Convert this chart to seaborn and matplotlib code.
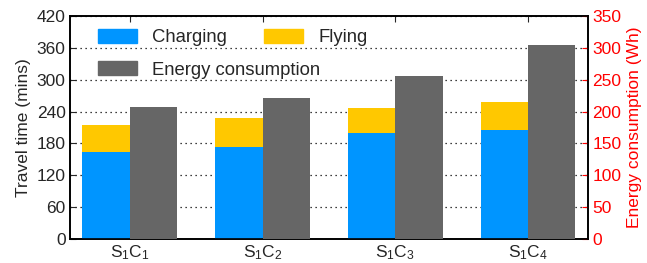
import numpy as np
import pandas as pd
import matplotlib
matplotlib.use("Agg")
import matplotlib.pyplot as plt
from matplotlib.patches import Patch
import seaborn as sns

# Data
scenarios = ["S$_1$C$_1$", "S$_1$C$_2$", "S$_1$C$_3$", "S$_1$C$_4$"]
charging = [164, 173, 200, 205]     # mins
flying = [51, 55, 47, 53]           # mins (stacked on charging)
energy = [207, 221, 256, 305]       # Wh (right axis)

sns.set_style("white")
plt.rcParams["font.family"] = ["Liberation Sans", "DejaVu Sans"]
plt.rcParams["mathtext.default"] = "regular"
plt.rcParams["font.size"] = 12.5

blue, yellow, grey, red = "#0095ff", "#ffc800", "#666666", "#ff0000"
w = 0.355
pos = np.arange(len(scenarios))

df = pd.DataFrame({"pos": pos, "charging": charging, "flying": flying, "energy": energy})
df["travel"] = df["charging"] + df["flying"]

fig = plt.figure(figsize=(6.47, 2.63), dpi=100)
ax = fig.add_axes([0.108, 0.091, 0.801, 0.848])
ax2 = ax.twinx()

bar_kw = dict(native_scale=True, width=w, saturation=1, linewidth=0, zorder=3)
sns.barplot(x=df["pos"] - w / 2, y=df["travel"], color=yellow, ax=ax, **bar_kw)
sns.barplot(x=df["pos"] - w / 2, y=df["charging"], color=blue, ax=ax, **bar_kw)
sns.barplot(x=df["pos"] + w / 2, y=df["energy"], color=grey, ax=ax2, **bar_kw)

ax.set_ylim(0, 420)
ax.set_yticks(range(0, 421, 60))
ax2.set_ylim(0, 350)
ax2.set_yticks(range(0, 351, 50))
ax.set_xlim(-0.45, 3.45)
ax.set_xticks(pos)
ax.set_xticklabels(scenarios)
ax.set_xlabel("")
ax2.set_xlabel("")
ax.set_ylabel("Travel time (mins)")
ax2.set_ylabel("Energy consumption (Wh)", color=red)

ax.yaxis.grid(True, linestyle=(0, (1, 3)), color="black", linewidth=0.9)
ax.set_axisbelow(True)
ax2.grid(False)

ax.tick_params(axis="both", direction="in", length=4, top=True, pad=3)
ax2.tick_params(axis="y", direction="in", length=4, colors=red, pad=3)
for a in (ax, ax2):
    for s in a.spines.values():
        s.set_linewidth(1.2)
        s.set_color("black")

leg_kw = dict(frameon=False, loc="upper left", handlelength=2.1, handleheight=0.8,
              handletextpad=0.85, borderaxespad=0, fontsize=13.3)
leg1 = ax2.legend(handles=[Patch(color=blue, label="Charging"),
                           Patch(color=yellow, label="Flying")],
                  ncol=2, columnspacing=2.0, bbox_to_anchor=(0.04, 0.975), **leg_kw)
ax2.add_artist(leg1)
ax2.legend(handles=[Patch(color=grey, label="Energy consumption")],
           bbox_to_anchor=(0.04, 0.83), **leg_kw)

fig.savefig("out.png", dpi=100)
